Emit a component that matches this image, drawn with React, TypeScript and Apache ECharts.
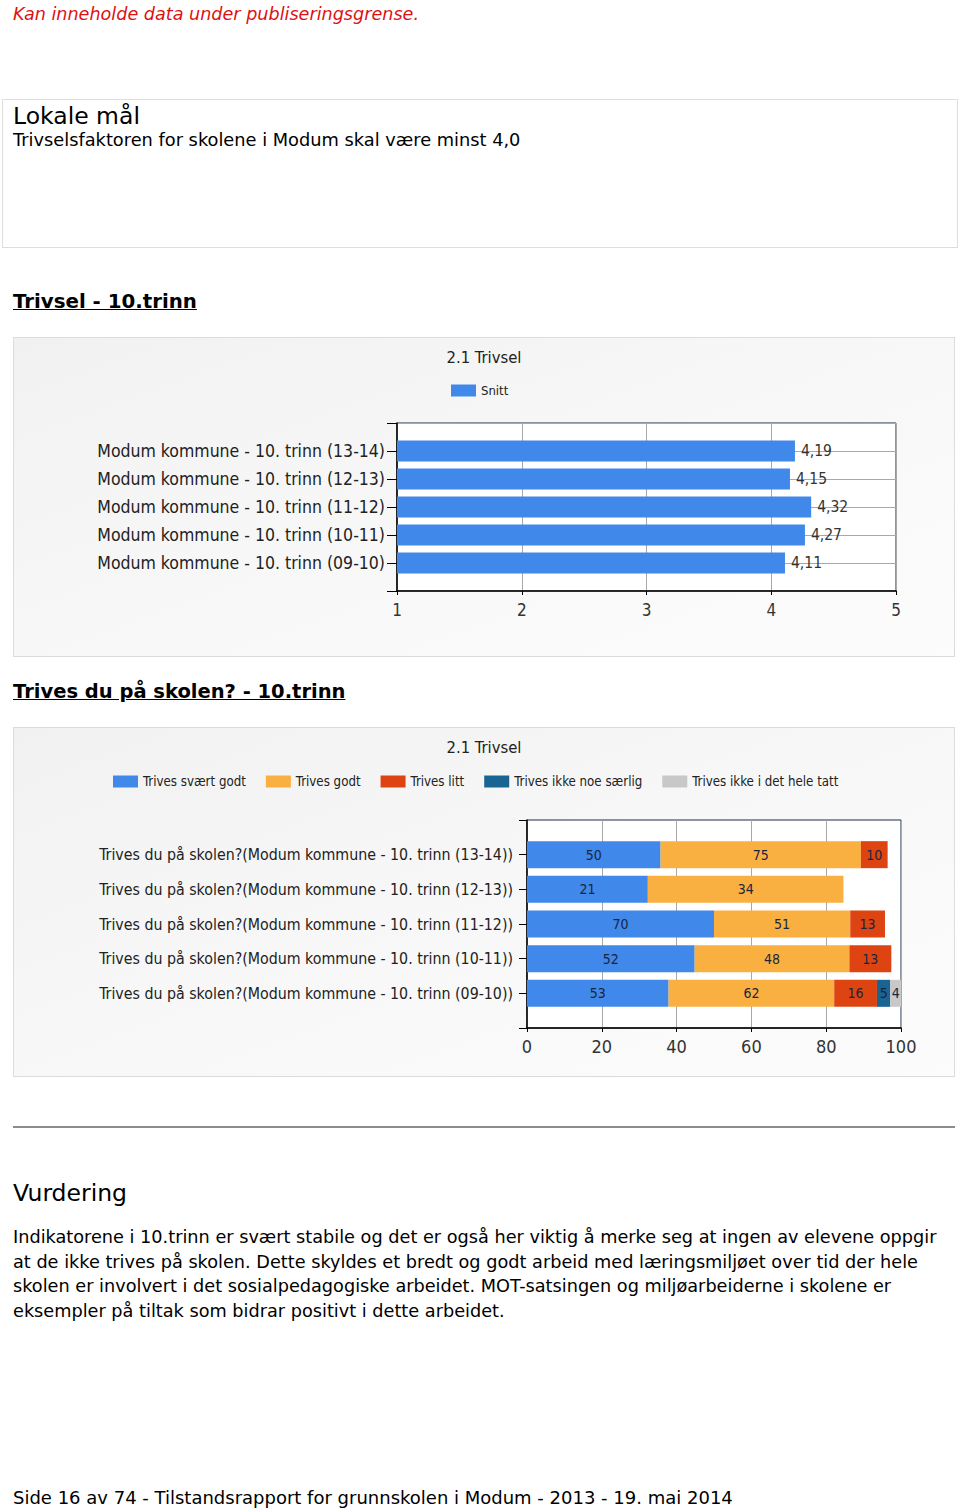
import React, { useEffect, useRef } from "react";
import * as echarts from "echarts";

// ---------- Data ----------
const periodLabels = ["(09-10)", "(10-11)", "(11-12)", "(12-13)", "(13-14)"];
const snittValues = [4.11, 4.27, 4.32, 4.15, 4.19];

const svaertGodt = [53, 52, 70, 21, 50];
const godt = [62, 48, 51, 34, 75];
const litt = [16, 13, 13, 0, 10];
const ikkeNoeSaerlig = [5, 0, 0, 0, 0];
const ikkeIDetHeleTatt = [4, 0, 0, 0, 0];
const respondents = [140, 116, 140, 65, 140];

const seriesNames = [
  "Trives svært godt",
  "Trives godt",
  "Trives litt",
  "Trives ikke noe særlig",
  "Trives ikke i det hele tatt",
];
const seriesColors = ["#4088ea", "#fab040", "#dd4411", "#1a6494", "#c8c8c8"];
const snittTicks = [1, 5, 1];
const pctTicks = [0, 100, 20];

const CHART_FONT = "DejaVu Sans Condensed, DejaVu Sans, sans-serif";
const PAGE_FONT = "DejaVu Sans, Verdana, sans-serif";

function pad<T>(arr: T[], blank: any): any[] {
  return [blank, ...arr, blank];
}

function Chart({ option, style }: { option: any; style: React.CSSProperties }) {
  const ref = useRef<HTMLDivElement>(null);
  useEffect(() => {
    if (!ref.current) return;
    const chart = echarts.init(ref.current, undefined, { renderer: "svg" });
    chart.setOption(option);
    return () => chart.dispose();
  }, [option]);
  return <div ref={ref} style={style} />;
}

const axisLineBlack = { show: true, lineStyle: { color: "#000", width: 1.5 } };

const option1 = {
  animation: false,
  backgroundColor: "transparent",
  textStyle: { fontFamily: CHART_FONT },
  title: {
    text: "2.1 Trivsel",
    left: "center",
    top: 6,
    textStyle: { fontSize: 16.5, fontWeight: "normal", color: "#222", fontFamily: CHART_FONT },
  },
  legend: {
    top: 41,
    left: 432,
    itemWidth: 25,
    itemHeight: 12,
    icon: "rect",
    textStyle: { fontSize: 13, color: "#222", fontFamily: CHART_FONT },
    data: ["Snitt"],
  },
  grid: {
    left: 383,
    right: 58,
    top: 85,
    bottom: 65,
    show: true,
    backgroundColor: "#ffffff",
    borderColor: "#1c2a48",
    borderWidth: 1,
    containLabel: false,
  },
  xAxis: {
    type: "value",
    min: snittTicks[0],
    max: snittTicks[1],
    interval: snittTicks[2],
    axisLine: axisLineBlack,
    axisTick: { show: true, length: 4, lineStyle: { color: "#000" } },
    splitLine: { show: true, lineStyle: { color: "#a8a8a8" } },
    axisLabel: { fontSize: 17, color: "#333", margin: 10, fontFamily: CHART_FONT },
  },
  yAxis: {
    type: "category",
    boundaryGap: false,
    data: pad(periodLabels.map((p) => "Modum kommune - 10. trinn " + p), ""),
    axisLine: axisLineBlack,
    axisTick: { show: true, length: 10, inside: false, lineStyle: { color: "#000" } },
    splitLine: { show: true, lineStyle: { color: "#a8a8a8" } },
    axisLabel: { fontSize: 17.5, color: "#222", margin: 12, fontFamily: CHART_FONT },
  },
  series: [
    {
      name: "Snitt",
      type: "bar",
      barWidth: 21,
      itemStyle: { color: "#4088ea" },
      data: pad(snittValues, "-"),
      label: {
        show: true,
        position: "right",
        distance: 6,
        fontSize: 15.5,
        color: "#333",
        fontFamily: CHART_FONT,
        formatter: (p: any) => String(p.value).replace(".", ","),
      },
      z: 3,
    },
  ],
};

const countsBySeries = [svaertGodt, godt, litt, ikkeNoeSaerlig, ikkeIDetHeleTatt];

const option2 = {
  animation: false,
  backgroundColor: "transparent",
  textStyle: { fontFamily: CHART_FONT },
  title: {
    text: "2.1 Trivsel",
    left: "center",
    top: 6,
    textStyle: { fontSize: 16.5, fontWeight: "normal", color: "#222", fontFamily: CHART_FONT },
  },
  legend: {
    top: 42,
    left: 94,
    itemWidth: 25,
    itemHeight: 12,
    itemGap: 20,
    icon: "rect",
    textStyle: { fontSize: 13.2, color: "#222", fontFamily: CHART_FONT },
    data: seriesNames,
  },
  grid: {
    left: 513,
    right: 53,
    top: 92,
    bottom: 48,
    show: true,
    backgroundColor: "#ffffff",
    borderColor: "#1c2a48",
    borderWidth: 1,
  },
  xAxis: {
    type: "value",
    min: pctTicks[0],
    max: pctTicks[1],
    interval: pctTicks[2],
    axisLine: axisLineBlack,
    axisTick: { show: true, length: 4, lineStyle: { color: "#000" } },
    splitLine: { show: true, lineStyle: { color: "#a8a8a8" } },
    axisLabel: { fontSize: 18, color: "#333", margin: 9, fontFamily: CHART_FONT },
  },
  yAxis: {
    type: "category",
    boundaryGap: false,
    data: pad(
      periodLabels.map((p) => "Trives du på skolen?(Modum kommune - 10. trinn " + p + ")"),
      ""
    ),
    axisLine: axisLineBlack,
    axisTick: { show: true, length: 8, lineStyle: { color: "#000" } },
    splitLine: { show: false },
    axisLabel: { fontSize: 15.8, color: "#222", margin: 14, fontFamily: CHART_FONT },
  },
  series: countsBySeries.map((counts, si) => ({
    name: seriesNames[si],
    type: "bar",
    stack: "total",
    barWidth: 27,
    itemStyle: { color: seriesColors[si] },
    data: pad(
      counts.map((c, i) => ({ value: (c / respondents[i]) * 100, count: c })),
      "-"
    ),
    label: {
      show: true,
      position: "inside",
      fontSize: 14,
      color: "#1a2540",
      fontFamily: CHART_FONT,
      formatter: (p: any) => (p.data && p.data.count ? String(p.data.count) : ""),
    },
  })),
};

const abs = (s: React.CSSProperties): React.CSSProperties => ({ position: "absolute", margin: 0, whiteSpace: "nowrap", ...s });

const paragraphLines = [
  "Indikatorene i 10.trinn er svært stabile og det er også her viktig å merke seg at ingen av elevene oppgir",
  "at de ikke trives på skolen. Dette skyldes et bredt og godt arbeid med læringsmiljøet over tid der hele",
  "skolen er involvert i det sosialpedagogiske arbeidet. MOT-satsingen og miljøarbeiderne i skolene er",
  "eksempler på tiltak som bidrar positivt i dette arbeidet.",
];

export default function App() {
  const boxStyle: React.CSSProperties = {
    background: "linear-gradient(160deg, #f1f1f1 0%, #f7f7f7 45%, #fcfcfc 100%)",
    border: "1px solid #dcdcdc",
    boxSizing: "border-box",
  };
  return (
    <div
      style={{
        position: "absolute",
        left: 0,
        top: 0,
        width: 960,
        height: 1512,
        background: "#fff",
        fontFamily: PAGE_FONT,
        color: "#000",
        overflow: "hidden",
      }}
    >
      <div style={abs({ left: 13, top: 3, fontSize: 17.6, lineHeight: "22px", color: "#dd1111", fontStyle: "italic" })}>
        Kan inneholde data under publiseringsgrense.
      </div>

      <div style={abs({ left: 2, top: 99, width: 956, height: 149, border: "1px solid #dedede", boxSizing: "border-box" })} />
      <div style={abs({ left: 13, top: 101, fontSize: 23.5, lineHeight: "30px" })}>Lokale mål</div>
      <div style={abs({ left: 13, top: 129, fontSize: 17.8, lineHeight: "22px" })}>
        Trivselsfaktoren for skolene i Modum skal være minst 4,0
      </div>

      <div style={abs({ left: 13, top: 289, fontSize: 19.8, lineHeight: "26px", fontWeight: "bold", textDecoration: "underline" })}>
        Trivsel - 10.trinn
      </div>

      <Chart option={option1} style={{ ...abs({ left: 13, top: 337, width: 942, height: 320 }), ...boxStyle }} />

      <div style={abs({ left: 13, top: 679, fontSize: 19.5, lineHeight: "26px", fontWeight: "bold", textDecoration: "underline" })}>
        Trives du på skolen? - 10.trinn
      </div>

      <Chart option={option2} style={{ ...abs({ left: 13, top: 727, width: 942, height: 350 }), ...boxStyle }} />

      <div style={abs({ left: 13, top: 1126, width: 942, height: 2, background: "#8c8c8c" })} />

      <div style={abs({ left: 13, top: 1178, fontSize: 23.5, lineHeight: "30px" })}>Vurdering</div>

      {paragraphLines.map((line, i) => (
        <div key={i} style={abs({ left: 13, top: 1226 + i * 24.6, fontSize: 17.7, lineHeight: "22px" })}>
          {line}
        </div>
      ))}

      <div style={abs({ left: 13, top: 1487, fontSize: 18, lineHeight: "22px" })}>
        Side 16 av 74 - Tilstandsrapport for grunnskolen i Modum - 2013 - 19. mai 2014
      </div>
    </div>
  );
}
